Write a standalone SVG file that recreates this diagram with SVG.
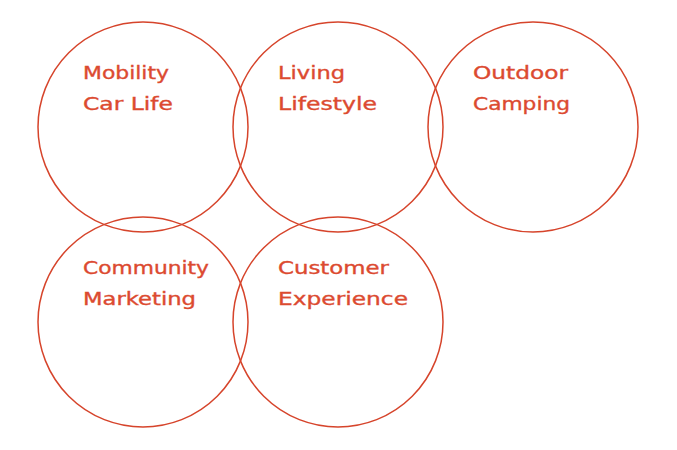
<svg xmlns="http://www.w3.org/2000/svg" width="677" height="450" viewBox="0 0 677 450">
<style>
.c{fill:none;stroke:#d6442b;stroke-width:1.5}
.t{font-family:"DejaVu Sans","Liberation Sans",sans-serif;font-size:17px;fill:#dc4a30;stroke:#dc4a30;stroke-width:0.35}
</style>
<rect width="677" height="450" fill="#ffffff"/>
<g id="mobility"><circle class="c" cx="143" cy="127" r="105"/><text class="t" x="83" y="79" textLength="86" lengthAdjust="spacingAndGlyphs">Mobility</text><text class="t" x="83" y="110" textLength="90" lengthAdjust="spacingAndGlyphs">Car Life</text></g>
<g id="living"><circle class="c" cx="338" cy="127" r="105"/><text class="t" x="278" y="79" textLength="67" lengthAdjust="spacingAndGlyphs">Living</text><text class="t" x="278" y="110" textLength="99" lengthAdjust="spacingAndGlyphs">Lifestyle</text></g>
<g id="outdoor"><circle class="c" cx="533" cy="127" r="105"/><text class="t" x="473" y="79" textLength="95" lengthAdjust="spacingAndGlyphs">Outdoor</text><text class="t" x="473" y="110" textLength="97" lengthAdjust="spacingAndGlyphs">Camping</text></g>
<g id="community"><circle class="c" cx="143" cy="322" r="105"/><text class="t" x="83" y="274" textLength="126" lengthAdjust="spacingAndGlyphs">Community</text><text class="t" x="83" y="305" textLength="113" lengthAdjust="spacingAndGlyphs">Marketing</text></g>
<g id="customer"><circle class="c" cx="338" cy="322" r="105"/><text class="t" x="278" y="274" textLength="111" lengthAdjust="spacingAndGlyphs">Customer</text><text class="t" x="278" y="305" textLength="130" lengthAdjust="spacingAndGlyphs">Experience</text></g>
<g id="connectors"></g>
</svg>
